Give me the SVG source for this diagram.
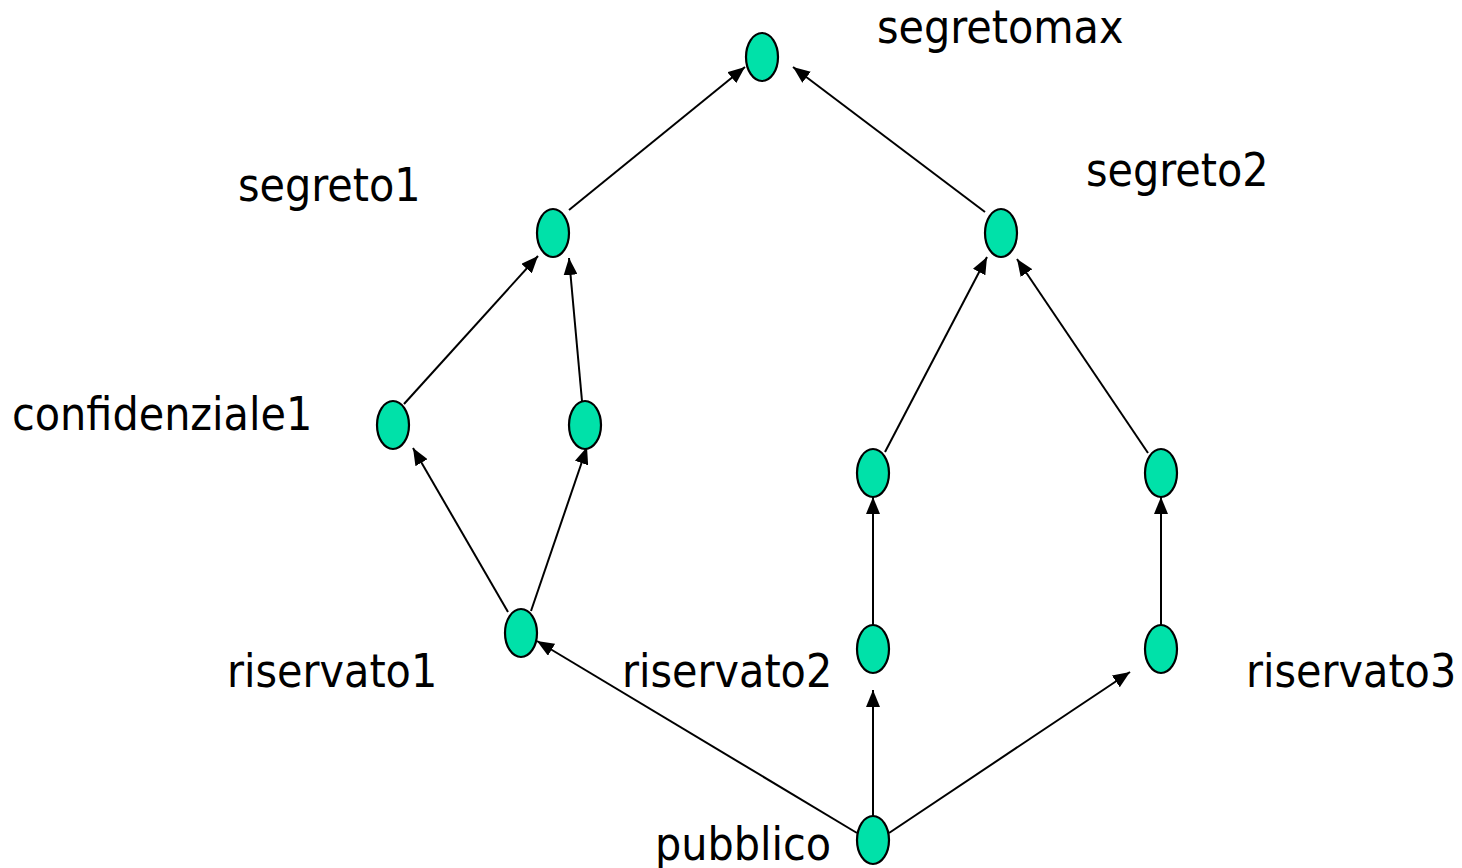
<svg xmlns="http://www.w3.org/2000/svg" width="1462" height="868" viewBox="0 0 1462 868">
  <style>
    .node { fill: #00E1A9; stroke: #000; stroke-width: 2.2; }
    .edge { stroke: #000; stroke-width: 2; fill: none; marker-end: url(#arrow); }
    .label { font-family: "DejaVu Sans Condensed", "DejaVu Sans", sans-serif; font-size: 46px; fill: #000; }
  </style>
  <defs>
    <marker id="arrow" markerUnits="userSpaceOnUse" markerWidth="17" markerHeight="14" refX="17" refY="7" orient="auto">
      <path d="M0,0 L17,7 L0,14 z" fill="#000"/>
    </marker>
  </defs>
  <rect width="1462" height="868" fill="#fff"/>

  <g id="connectors">
    <line class="edge" x1="569" y1="210" x2="745" y2="67"/>
    <line class="edge" x1="985" y1="212" x2="793" y2="67"/>
    <line class="edge" x1="404" y1="404" x2="538" y2="256"/>
    <line class="edge" x1="582" y1="401" x2="569" y2="258"/>
    <line class="edge" x1="508" y1="612" x2="413" y2="448"/>
    <line class="edge" x1="531" y1="611" x2="587" y2="447"/>
    <line class="edge" x1="885" y1="452" x2="987" y2="257"/>
    <line class="edge" x1="1148" y1="453" x2="1017" y2="259"/>
    <line class="edge" x1="873" y1="625" x2="873" y2="497"/>
    <line class="edge" x1="1161" y1="625" x2="1161" y2="497"/>
    <line class="edge" x1="857" y1="833" x2="537" y2="641"/>
    <line class="edge" x1="873" y1="816" x2="873" y2="690"/>
    <line class="edge" x1="889" y1="833" x2="1130" y2="672"/>
  </g>

  <g id="segretomax">
    <ellipse class="node" cx="762" cy="57" rx="16" ry="24"/>
    <text class="label" x="877" y="43">segretomax</text>
  </g>
  <g id="segreto1">
    <ellipse class="node" cx="553" cy="233" rx="16" ry="24"/>
    <text class="label" x="238" y="201">segreto1</text>
  </g>
  <g id="segreto2">
    <ellipse class="node" cx="1001" cy="233" rx="16" ry="24"/>
    <text class="label" x="1086" y="186">segreto2</text>
  </g>
  <g id="confidenziale1">
    <ellipse class="node" cx="393" cy="425" rx="16" ry="24"/>
    <text class="label" x="12" y="430">confidenziale1</text>
  </g>
  <g id="confidenziale1b">
    <ellipse class="node" cx="585" cy="425" rx="16" ry="24"/>
  </g>
  <g id="confidenziale2">
    <ellipse class="node" cx="873" cy="473" rx="16" ry="24"/>
  </g>
  <g id="confidenziale3">
    <ellipse class="node" cx="1161" cy="473" rx="16" ry="24"/>
  </g>
  <g id="riservato1">
    <ellipse class="node" cx="521" cy="633" rx="16" ry="24"/>
    <text class="label" x="227" y="687">riservato1</text>
  </g>
  <g id="riservato2">
    <ellipse class="node" cx="873" cy="649" rx="16" ry="24"/>
    <text class="label" x="622" y="687">riservato2</text>
  </g>
  <g id="riservato3">
    <ellipse class="node" cx="1161" cy="649" rx="16" ry="24"/>
    <text class="label" x="1246" y="687">riservato3</text>
  </g>
  <g id="pubblico">
    <ellipse class="node" cx="873" cy="840" rx="16" ry="24"/>
    <text class="label" x="655" y="860">pubblico</text>
  </g>
</svg>
